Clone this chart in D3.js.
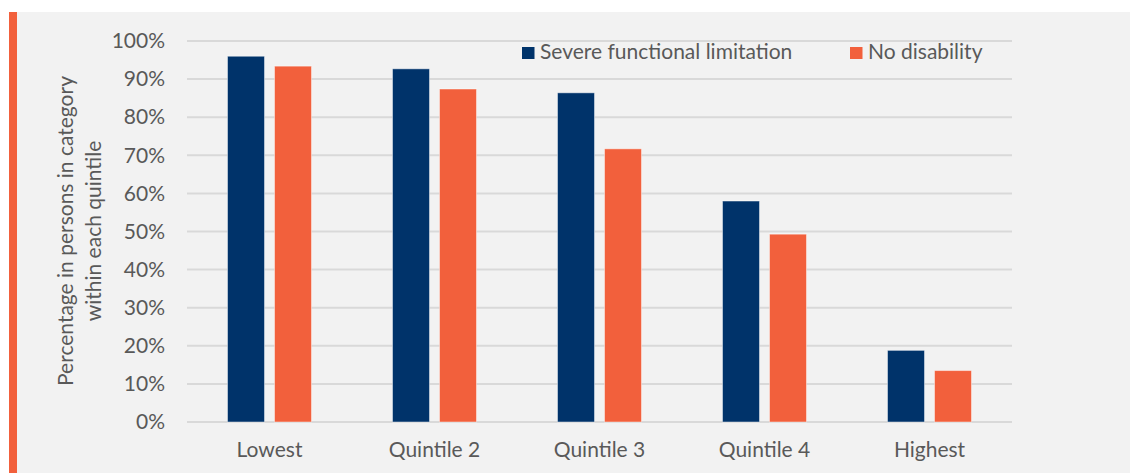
<!DOCTYPE html>
<html><head><meta charset="utf-8">
<script src="https://cdn.jsdelivr.net/npm/d3@7"></script>
<style>
html,body{margin:0;padding:0;background:#fff;}
svg{display:block;font-family:"Lato",sans-serif;}
</style></head>
<body>
<svg id="chart" width="1130" height="473"></svg>
<script>
const categories = ["Lowest","Quintile 2","Quintile 3","Quintile 4","Highest"];
const seriesNames = ["Severe functional limitation","No disability"];
const severe = [96.0, 92.7, 86.4, 58.0, 18.8];
const noDisability = [93.4, 87.4, 71.7, 49.3, 13.5];
const yTicks = [0,10,20,30,40,50,60,70,80,90,100];
const colors = ["#00336a","#f2603c"];

(function(){
const FS = 21, FF = "Lato";
const svg = d3.select("#chart");
svg.append("rect").attr("x",9).attr("y",12).attr("width",1121).attr("height",461).attr("fill","#f2f2f2");
svg.append("rect").attr("x",9).attr("y",12).attr("width",8).attr("height",461).attr("fill","#f2603c");

const pLeft=187, pRight=1012, pTop=41, pBottom=422;
const x = d3.scaleBand().domain(categories).range([pLeft,pRight]);
const y = d3.scaleLinear().domain([0,100]).range([pBottom,pTop]);
const xs = d3.scaleBand().domain([0,1]).range([0,84]).paddingInner(0.213);

const grid = svg.append("g");
grid.selectAll("line").data(yTicks).join("line")
  .attr("x1",pLeft).attr("x2",pRight)
  .attr("y1",d=>y(d)).attr("y2",d=>y(d))
  .attr("stroke","#d9d9d9").attr("stroke-width",2);

const yAxis = svg.append("g").attr("transform",`translate(${pLeft-22},0)`)
  .call(d3.axisLeft(y).tickValues(yTicks).tickFormat(d=>d+"%").tickSize(0).tickPadding(0));
yAxis.select(".domain").remove();
yAxis.selectAll("text").attr("font-size",FS).attr("fill","#595959").attr("font-family",FF);

const xAxis = svg.append("g").attr("transform",`translate(0,${pBottom})`)
  .call(d3.axisBottom(x).tickSize(0).tickPadding(20));
xAxis.select(".domain").remove();
xAxis.selectAll("text").attr("font-size",FS).attr("fill","#595959").attr("font-family",FF);

const data = [severe, noDisability];
data.forEach((vals,si)=>{
  svg.append("g").selectAll("rect").data(vals).join("rect")
    .attr("x",(d,i)=>x(categories[i])+x.bandwidth()/2-42+xs(si))
    .attr("width",xs.bandwidth())
    .attr("y",d=>y(d))
    .attr("height",d=>pBottom-y(d))
    .attr("fill",colors[si])
    .attr("stroke","rgba(255,255,255,0.45)").attr("stroke-width",1);
});

const legendX = [522, 850];
seriesNames.forEach((n,i)=>{
  svg.append("rect").attr("x",legendX[i]).attr("y",47).attr("width",12.5).attr("height",12).attr("fill",colors[i]);
  svg.append("text").attr("x",legendX[i]+18).attr("y",59).text(n)
    .attr("font-size",FS).attr("fill","#595959").attr("font-family",FF);
});

const yt = svg.append("text").attr("transform","translate(80,231) rotate(-90)")
  .attr("text-anchor","middle").attr("font-size",FS).attr("fill","#595959").attr("font-family",FF);
yt.append("tspan").attr("x",0).attr("dy",-7).text("Percentage in persons in category");
yt.append("tspan").attr("x",0).attr("dy",28).text("within each quintile");
})();
</script>
</body></html>
